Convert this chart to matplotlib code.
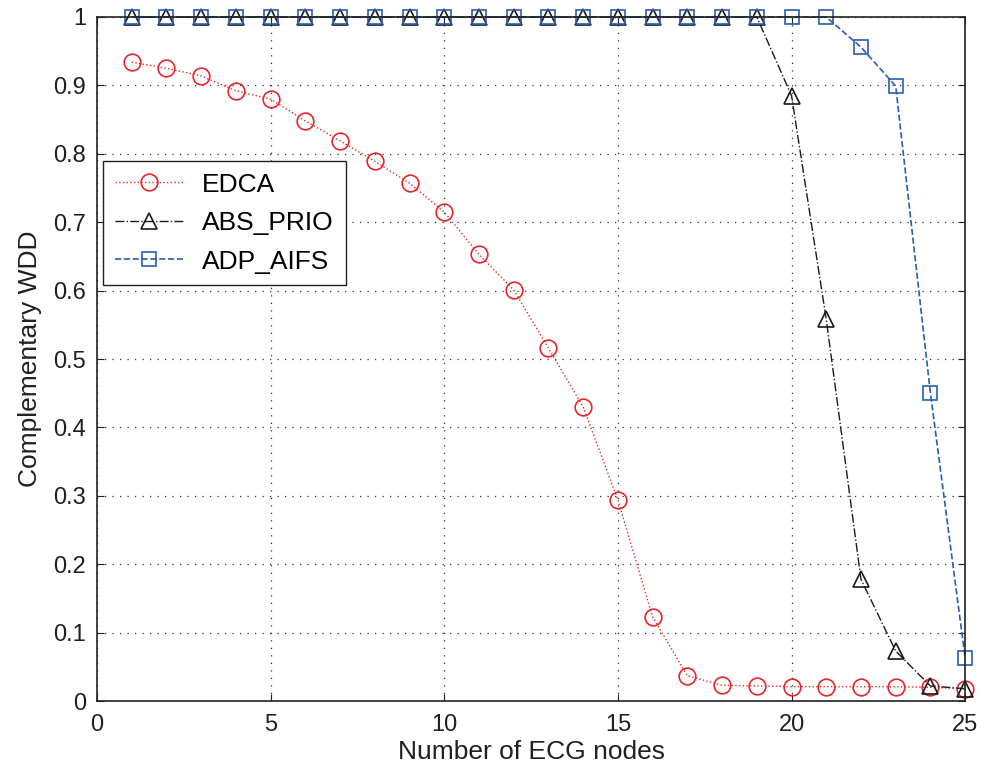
import matplotlib
matplotlib.use("Agg")
import matplotlib.pyplot as plt

plt.rcParams['font.family'] = ['Liberation Sans', 'DejaVu Sans']

nodes = list(range(1, 26))
edca = [0.934, 0.925, 0.914, 0.892, 0.880, 0.848, 0.819, 0.789, 0.757, 0.715,
        0.653, 0.601, 0.516, 0.430, 0.294, 0.123, 0.037, 0.023, 0.022, 0.021,
        0.021, 0.021, 0.021, 0.020, 0.018]
abs_prio = [1.0] * 19 + [0.885, 0.558, 0.178, 0.073, 0.022, 0.018]
adp_aifs = [1.0] * 21 + [0.956, 0.899, 0.450, 0.063]

fig = plt.figure(figsize=(9.95, 7.69), dpi=100)
ax = fig.add_axes([0.0975, 0.0884, 0.8725, 0.8895])

ax.plot(nodes, edca, linestyle=':', color='#e8262a', lw=1.0, marker='o', ms=12,
        mfc='none', mec='#e8262a', mew=1.2, label='EDCA', clip_on=False)
ax.plot(nodes, abs_prio, linestyle='-.', color='#1a1a1a', lw=1.0, marker='^', ms=12,
        mfc='none', mec='#1a1a1a', mew=1.2, label='ABS_PRIO', clip_on=False)
ax.plot(nodes, adp_aifs, linestyle='--', color='#2a5db0', lw=1.2, marker='s', ms=10,
        mfc='none', mec='#2a5db0', mew=1.2, label='ADP_AIFS', clip_on=False)

ax.set_xlim(0, 25)
ax.set_ylim(0, 1)
ax.set_xticks(range(0, 26, 5))
ax.set_yticks([i / 10 for i in range(11)])
ax.set_yticklabels(['0', '0.1', '0.2', '0.3', '0.4', '0.5', '0.6', '0.7', '0.8', '0.9', '1'])
ax.tick_params(direction='in', length=5, labelsize=17, top=True, right=True,
               color='#222222', labelcolor='#231f20')
ax.tick_params(axis='x', pad=9)
ax.tick_params(axis='y', pad=8)
ax.grid(True, linestyle=(0, (1, 5)), color='#333333', lw=0.9)
for s in ax.spines.values():
    s.set_color('#222222')
    s.set_linewidth(1.2)

ax.set_xlabel('Number of ECG nodes', fontsize=19, color='#231f20', labelpad=3)
ax.set_ylabel('Complementary WDD', fontsize=19, color='#231f20', labelpad=8)

leg = ax.legend(loc='upper left', bbox_to_anchor=(0.007, 0.79), borderaxespad=0,
                fontsize=19, fancybox=False, framealpha=1, edgecolor='#222222',
                handlelength=2.6, handletextpad=0.7, borderpad=0.45, labelspacing=0.55)
leg.get_frame().set_linewidth(1.0)

fig.savefig('out.png', dpi=100)
